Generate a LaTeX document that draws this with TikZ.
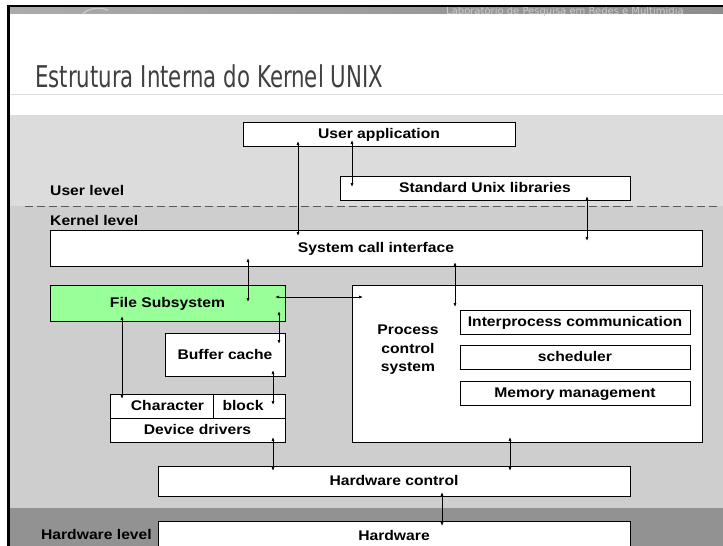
\documentclass[tikz,border=0pt]{standalone}
\usepackage{fontspec}
\usepackage{tikz}
\usetikzlibrary{arrows.meta,calc}
\newfontfamily\boxfont[FakeStretch=1.12]{Liberation Sans}
\newfontfamily\titlefont[FakeStretch=0.71]{DejaVu Sans}
\newfontfamily\headfont{DejaVu Sans}
\definecolor{userbg}{HTML}{DCDCDC}
\definecolor{kernbg}{HTML}{CECECE}
\definecolor{hwbg}{HTML}{929292}
\definecolor{fsgreen}{HTML}{99FF99}
\newcommand{\lbl}{\boxfont\bfseries\fontsize{14}{18.5}\selectfont}

\begin{document}
\begin{tikzpicture}[
  x=1pt, y=-1pt,
  b/.style={draw, line width=1pt, fill=white, inner sep=0pt, outer sep=0pt, font=\lbl, text height=11pt, text depth=2pt, anchor=north west},
  lvl/.style={font=\lbl, inner sep=0pt, text height=11pt, text depth=2pt},
  arr/.style={{Latex[length=4pt,width=3pt]}-{Latex[length=4pt,width=3pt]}, line width=0.7pt}
]
  \useasboundingbox (0,0) rectangle (723,546);
  \clip (0,0) rectangle (723,546);
  \fill[white] (0,0) rectangle (723,546);
  % slide header
  \shade[left color=black!33, right color=black!45] (10,6) rectangle (723,13.5);
  \draw[black!20, line width=1.2pt] (83,14) .. controls (88,8) and (100,7) .. (108,10);
  \node[anchor=base west, inner sep=0pt, font=\headfont\fontsize{10}{12}\selectfont, text=black!20] (lab) at (446,14) {Laboratório de Pesquisa em Redes e Multimídia};
  \fill[black] (7,5) rectangle (723,6.5);
  \fill[black] (7,5) rectangle (10,546);
  \node[anchor=base west, inner sep=0pt, font=\titlefont\fontsize{30}{36}\selectfont, text=black!75] (title) at (35,87) {Estrutura Interna do Kernel UNIX};
  \draw[black!13, line width=1pt] (10,94.5) -- (723,94.5);
  % levels
  \fill[userbg] (10,115) rectangle (723,206);
  \fill[kernbg] (10,206) rectangle (723,508);
  \fill[hwbg] (10,508) rectangle (723,546);
  \draw[black!65, line width=1pt, dash pattern=on 8pt off 4pt] (25,206) -- (720,206);
  \node[lvl, anchor=west] (ul) at (50,191) {User level};
  \node[lvl, anchor=west] (kl) at (50,221) {Kernel level};
  \node[lvl, anchor=east] (hl) at (152,535) {Hardware level};
  % boxes
  \node[b, minimum width=272pt, minimum height=24pt] (ua) at (243,122) {User application};
  \node[b, minimum width=290pt, minimum height=24pt] (sul) at (340,176) {Standard Unix libraries};
  \node[b, minimum width=652pt, minimum height=36pt] (sci) at (50,230) {System call interface};
  \node[b, fill=fsgreen, minimum width=235pt, minimum height=36pt] (fs) at (50,285) {File Subsystem};
  \node[b, minimum width=120pt, minimum height=43pt] (bc) at (165,333) {Buffer cache};
  \node[b, minimum width=103pt, minimum height=24pt] (chr) at (110,394) {\hspace*{12pt}Character};
  \node[b, minimum width=72pt, minimum height=24pt] (blk) at (213,394) {block\hspace*{12pt}};
  \node[b, minimum width=175pt, minimum height=24pt] (dd) at (110,418) {Device drivers};
  \node[b, minimum width=350pt, minimum height=157pt] (pcs) at (352,285) {};
  \node[font=\lbl, inner sep=0pt, align=center] (pct) at (408,350) {Process\\control\\system};
  \node[b, minimum width=230pt, minimum height=24pt] (ipc) at (460,310) {Interprocess communication};
  \node[b, minimum width=230pt, minimum height=24pt] (sch) at (460,345) {scheduler};
  \node[b, minimum width=230pt, minimum height=24pt] (mm) at (460,381) {Memory management};
  \node[b, minimum width=472pt, minimum height=30pt] (hc) at (158,466) {Hardware control};
  \node[b, minimum width=472pt, minimum height=30pt] (hw) at (158,521) {Hardware};
  % connectors
  \draw[arr] ($(ua.south west)+(55,-5)$) -- ($(sci.north west)+(248,6)$);
  \draw[arr] ($(ua.south west)+(109,-6)$) -- ($(sul.north west)+(12,11)$);
  \draw[arr] ($(sul.south west)+(247,-4)$) -- ($(sci.north west)+(537,11)$);
  \draw[arr] ($(sci.south west)+(198,-8)$) -- ($(fs.north west)+(198,17)$);
  \draw[arr] ($(sci.south west)+(405,-4)$) -- ($(pcs.north west)+(103,22)$);
  \draw[arr] ($(fs.north east)+(-10,12)$) -- ($(pcs.north west)+(11,12)$);
  \draw[arr] ($(fs.south east)+(-6,-10)$) -- ($(bc.north east)+(-6,11)$);
  \draw[arr] ($(bc.south east)+(-12,-6)$) -- ($(blk.north east)+(-12,11)$);
  \draw[arr] ($(fs.south west)+(72,-5)$) -- ($(chr.north west)+(12,5)$);
  \draw[arr] ($(dd.south east)+(-12,-5)$) -- ($(hc.north west)+(115,5)$);
  \draw[arr] ($(pcs.south west)+(158,-5)$) -- ($(hc.north west)+(352,5)$);
  \draw[arr] ($(hc.south west)+(284,-4)$) -- ($(hw.north west)+(284,5)$);
\end{tikzpicture}
\end{document}
